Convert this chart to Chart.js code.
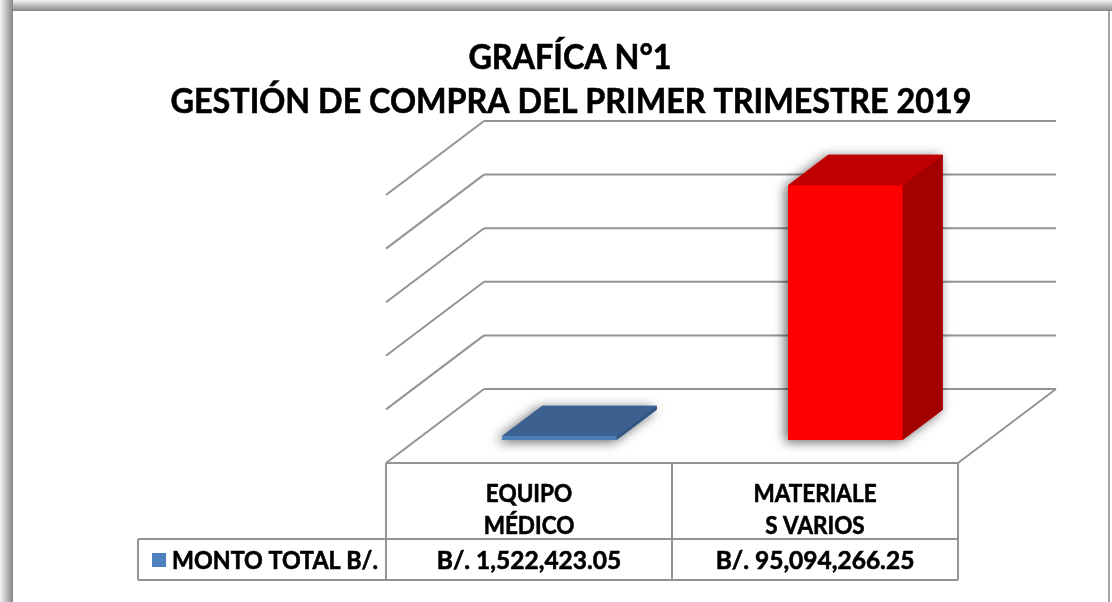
<!DOCTYPE html>
<html><head><meta charset="utf-8">
<script src="https://cdn.jsdelivr.net/npm/chart.js@4.4.1/dist/chart.umd.min.js"></script>
<style>html,body{margin:0;padding:0;background:#fff;overflow:hidden}canvas{display:block}</style>
</head><body>
<canvas id="c" width="1112" height="602"></canvas>
<script>
// ---- data ----
const titleLines = ['GRAFÍCA N°1', 'GESTIÓN DE COMPRA DEL PRIMER TRIMESTRE 2019'];
const categories = [['EQUIPO', 'MÉDICO'], ['MATERIALE', 'S VARIOS']];
const seriesName = 'MONTO TOTAL B/.';
const montoTotal = [1522423.05, 95094266.25];
const yAxisRange = [0, 100000000];
const yAxisStep = 20000000;

// ---- styles ----
const FONT = 'Lato, "Open Sans", sans-serif';
const faceColors = [
  { front: '#4a7ebb', top: '#3c6190', side: '#335580' },
  { front: '#ff0000', top: '#c00000', side: '#a30000' }
];
const legendKeyColor = '#4f81bd';
const gridColor = '#939393';
const DX = 98, DY = -74;      // full depth offset of the 3D box
const D0 = 0.31, D1 = 0.72;   // bar depth span

function fmt(v) {
  return 'B/. ' + v.toLocaleString('en-US', { minimumFractionDigits: 2, maximumFractionDigits: 2 });
}

function line(ctx, x1, y1, x2, y2) {
  ctx.beginPath(); ctx.moveTo(x1, y1); ctx.lineTo(x2, y2); ctx.stroke();
}
function poly(ctx, pts, fill) {
  ctx.beginPath();
  pts.forEach((p, i) => i ? ctx.lineTo(p[0], p[1]) : ctx.moveTo(p[0], p[1]));
  ctx.closePath(); ctx.fillStyle = fill; ctx.fill();
}
// condensed bold text (Calibri-like proportions)
function text(ctx, t, x, y, size, sx, align) {
  ctx.save();
  ctx.translate(x, y); ctx.scale(sx, 1);
  ctx.font = 'bold ' + size + 'px ' + FONT;
  ctx.textAlign = align || 'center'; ctx.textBaseline = 'middle';
  ctx.fillStyle = '#000'; ctx.strokeStyle = '#000'; ctx.lineWidth = 0.6;
  ctx.fillText(t, 0, 0);
  ctx.strokeText(t, 0, 0);
  ctx.restore();
}

const plugin3d = {
  id: 'threeD',
  beforeDraw(chart) {
    const ctx = chart.ctx, W = chart.width, H = chart.height;
    const ca = chart.chartArea, ys = chart.scales.y;
    ctx.save();
    ctx.fillStyle = '#fff'; ctx.fillRect(0, 0, W, H);
    // frame shadow bands
    let g = ctx.createLinearGradient(0, 0, 0, 11);
    g.addColorStop(0, '#f4f4f4'); g.addColorStop(1, '#858585');
    ctx.fillStyle = g; ctx.fillRect(0, 0, W, 11);
    g = ctx.createLinearGradient(0, 0, 13, 0);
    g.addColorStop(0, '#f4f4f4'); g.addColorStop(1, '#858585');
    ctx.fillStyle = g; ctx.fillRect(0, 0, 13, H);
    ctx.fillStyle = '#a6a6a6'; ctx.fillRect(W - 4, 11, 2, H - 11);

    // title
    text(ctx, titleLines[0], 570, 58, 34, 0.95);
    text(ctx, titleLines[1], 571, 102, 34, 0.95);

    // walls & floor
    ctx.strokeStyle = gridColor; ctx.lineWidth = 2;
    const L = ca.left, R = ca.right;
    for (let v = ys.min; v <= ys.max + 1; v += yAxisStep) {
      const y = ys.getPixelForValue(v);
      line(ctx, L + DX, y + DY, R + DX, y + DY);
      line(ctx, L, y, L + DX, y + DY);
    }
    const y0 = ys.getPixelForValue(0);
    line(ctx, R, y0, R + DX, y0 + DY);
    line(ctx, L, y0, R, y0);
    ctx.restore();
  },
  afterDatasetsDraw(chart) {
    const ctx = chart.ctx, ca = chart.chartArea;
    const meta = chart.getDatasetMeta(0);
    ctx.save();
    meta.data.forEach((el, i) => {
      const c = faceColors[i];
      const xl = el.x - el.width / 2 + DX * D0, xr = el.x + el.width / 2 + DX * D0;
      const yt = el.y + DY * D0, yb = el.base + DY * D0;
      const bx = DX * (D1 - D0), by = DY * (D1 - D0);
      // soft shadow around the footprint
      ctx.save();
      ctx.shadowColor = 'rgba(0,0,0,0.6)'; ctx.shadowBlur = 12; ctx.shadowOffsetX = -3; ctx.shadowOffsetY = 2;
      poly(ctx, [[xl, yb], [xr, yb], [xr + bx, yb + by], [xr + bx, yt + by], [xl + bx, yt + by], [xl, yt]], c.front);
      ctx.restore();
      poly(ctx, [[xl, yt], [xr, yt], [xr, yb], [xl, yb]], c.front);
      poly(ctx, [[xl, yt], [xr, yt], [xr + bx, yt + by], [xl + bx, yt + by]], c.top);
      poly(ctx, [[xr, yt], [xr + bx, yt + by], [xr + bx, yb + by], [xr, yb]], c.side);
    });

    // data table
    const n = categories.length, cw = (ca.right - ca.left) / n;
    const tTop = ca.bottom, rowY = ca.bottom + 76, tBot = ca.bottom + 117, legL = 138;
    ctx.strokeStyle = gridColor; ctx.lineWidth = 2;
    line(ctx, legL, rowY, ca.right, rowY);
    line(ctx, legL, tBot, ca.right, tBot);
    line(ctx, legL, rowY, legL, tBot);
    for (let i = 0; i <= n; i++) line(ctx, ca.left + i * cw, tTop, ca.left + i * cw, tBot);
    const xs = chart.scales.x;
    categories.forEach((lab, i) => {
      const cx = xs.getPixelForValue(i);
      lab.forEach((t, k) => text(ctx, t, cx, tTop + 31 + k * 32, 25, 0.9));
      text(ctx, fmt(montoTotal[i]), cx, rowY + 22, 25, 0.98);
    });
    ctx.fillStyle = legendKeyColor; ctx.fillRect(152, rowY + 14, 14, 14);
    text(ctx, seriesName, 172, rowY + 22, 25, 0.93, 'left');
    ctx.restore();
  }
};

new Chart(document.getElementById('c'), {
  type: 'bar',
  data: {
    labels: categories,
    datasets: [{ label: seriesName, data: montoTotal, backgroundColor: 'rgba(0,0,0,0)', borderWidth: 0,
      barPercentage: 1, categoryPercentage: 0.4 }]
  },
  options: {
    responsive: false, animation: false, events: [],
    layout: { padding: { left: 386, right: 154, top: 195, bottom: 139 } },
    scales: {
      x: { display: false },
      y: { display: false, min: yAxisRange[0], max: yAxisRange[1], ticks: { stepSize: yAxisStep } }
    },
    plugins: { legend: { display: false }, title: { display: false }, tooltip: { enabled: false } }
  },
  plugins: [plugin3d]
});
</script>
</body></html>
